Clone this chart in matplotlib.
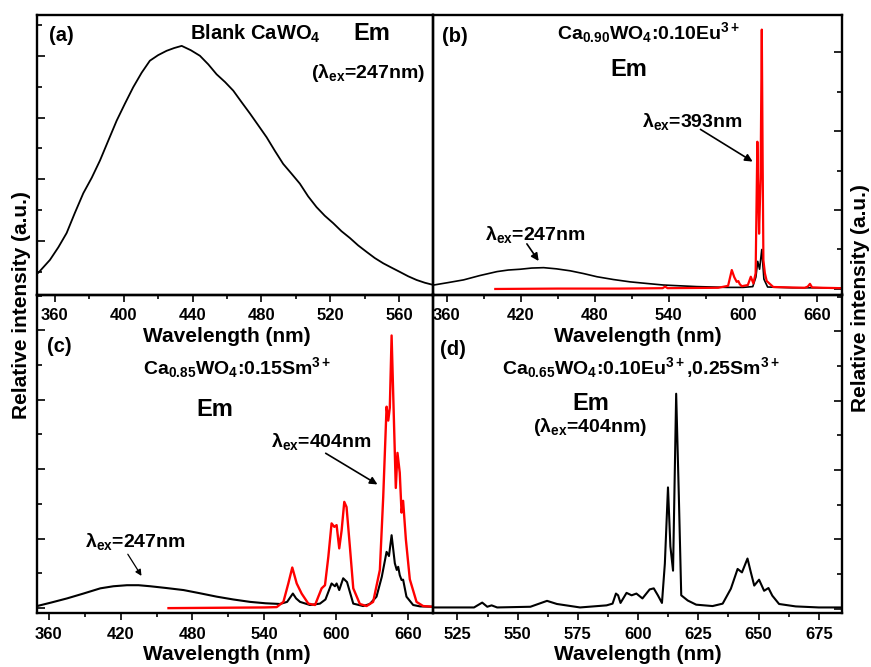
import matplotlib
matplotlib.use('Agg')
import matplotlib.pyplot as plt
import matplotlib.ticker as mtick

plt.rcParams['font.family'] = ['Liberation Sans', 'DejaVu Sans']
plt.rcParams['font.weight'] = 'bold'
plt.rcParams['mathtext.fontset'] = 'custom'
plt.rcParams['mathtext.rm'] = 'Liberation Sans:bold'
plt.rcParams['mathtext.it'] = 'Liberation Sans:bold'
plt.rcParams['mathtext.bf'] = 'Liberation Sans:bold'

# (a) blank CaWO4, excited at 247 nm
a_wl = [349.4, 350.3, 357.1, 362.0, 366.8, 371.5, 376.5, 381.4, 386.2, 391.0, 395.9,
        400.7, 405.5, 410.4, 415.2, 420.0, 424.9, 429.3, 433.7, 439.0, 444.3, 449.2,
        454.0, 458.9, 463.7, 468.5, 473.4, 478.2, 483.1, 487.9, 492.7, 497.6, 502.4,
        507.2, 512.1, 516.9, 521.8, 526.6, 531.5, 536.3, 541.2, 546.0, 550.9, 555.7,
        560.6, 565.4, 570.3, 575.1, 580.0]
a_int = [0.95, 0.97, 1.39, 1.80, 2.26, 2.90, 3.55, 4.05, 4.61, 5.25, 5.90,
         6.45, 6.98, 7.45, 7.84, 8.02, 8.16, 8.25, 8.32, 8.18, 8.00, 7.72,
         7.40, 7.15, 6.87, 6.50, 6.13, 5.75, 5.36, 4.92, 4.50, 4.18, 3.86,
         3.45, 3.10, 2.82, 2.58, 2.32, 2.10, 1.86, 1.65, 1.45, 1.28, 1.14,
         1.00, 0.86, 0.74, 0.65, 0.58]

# (b) Ca0.90WO4:0.10Eu3+
b_wl_247 = [349.6, 361.0, 373.8, 387.0, 400.9, 410.0, 419.7, 429.0, 438.6, 449.0,
            460.2, 471.0, 481.8, 495.0, 508.7, 522.0, 535.6, 549.0, 562.7, 575.0,
            586.9, 600.0, 608.0, 610.5, 612.0, 613.5, 615.3, 617.0, 620.0, 640.0,
            660.0, 680.0]
b_int_247 = [0.10, 0.16, 0.23, 0.34, 0.44, 0.48, 0.50, 0.53, 0.54, 0.51,
             0.46, 0.39, 0.31, 0.24, 0.18, 0.14, 0.10, 0.08, 0.06, 0.05,
             0.04, 0.04, 0.06, 0.30, 0.70, 0.50, 1.00, 0.25, 0.05, 0.03,
             0.03, 0.02]
b_wl_393 = [399.5, 450.0, 500.0, 535.0, 537.0, 539.0, 580.0, 588.0, 591.0, 593.0,
            595.0, 596.3, 597.5, 599.1, 604.0, 606.4, 608.5, 610.3, 611.7, 612.4,
            613.1, 614.3, 615.3, 616.0, 616.6, 617.8, 619.3, 624.6, 650.0, 652.5,
            654.3, 656.0, 665.0, 680.0]
b_int_393 = [0.00, 0.01, 0.01, 0.02, 0.06, 0.02, 0.03, 0.08, 0.48, 0.30,
             0.18, 0.20, 0.12, 0.07, 0.10, 0.31, 0.14, 0.40, 3.73, 2.50,
             1.40, 2.80, 6.57, 3.20, 0.73, 0.40, 0.20, 0.05, 0.03, 0.06,
             0.13, 0.04, 0.03, 0.02]

# (c) Ca0.85WO4:0.15Sm3+
c_wl_247 = [350.3, 362.0, 375.3, 389.0, 403.1, 414.0, 425.3, 435.0, 444.8, 458.0,
            472.6, 486.0, 500.3, 514.0, 528.1, 541.0, 553.1, 559.0, 563.8, 566.5,
            569.8, 578.1, 586.4, 591.0, 596.1, 598.9, 600.3, 602.5, 605.8, 609.0,
            611.5, 614.2, 622.5, 628.0, 633.6, 638.0, 642.0, 644.0, 646.2, 648.9,
            650.5, 651.7, 653.0, 654.5, 655.8, 658.6, 664.2, 670.0, 680.8]
c_int_247 = [0.06, 0.16, 0.28, 0.42, 0.57, 0.63, 0.66, 0.66, 0.63, 0.58,
             0.52, 0.43, 0.33, 0.25, 0.18, 0.14, 0.12, 0.18, 0.42, 0.28,
             0.18, 0.09, 0.13, 0.25, 0.71, 0.63, 0.71, 0.52, 0.86, 0.75,
             0.45, 0.13, 0.06, 0.12, 0.33, 0.90, 1.62, 1.50, 2.10, 1.29,
             1.10, 1.19, 0.95, 0.81, 0.82, 0.33, 0.09, 0.05, 0.04]
c_wl_404 = [460.0, 500.0, 540.0, 550.3, 555.9, 560.0, 563.3, 567.0, 571.1, 576.7,
            582.3, 587.8, 590.6, 593.4, 596.1, 598.4, 600.3, 602.5, 604.5, 606.7,
            608.6, 611.4, 614.2, 619.7, 625.3, 630.8, 636.4, 639.2, 642.0, 643.4,
            644.7, 646.2, 648.3, 649.7, 651.1, 653.0, 654.5, 655.8, 658.1, 661.4,
            667.0, 672.5, 680.8]
c_int_404 = [0.00, 0.01, 0.02, 0.03, 0.18, 0.71, 1.17, 0.71, 0.42, 0.13,
             0.09, 0.57, 0.66, 1.48, 2.44, 2.34, 2.39, 1.72, 2.24, 3.06,
             2.91, 1.76, 0.57, 0.12, 0.06, 0.18, 1.10, 3.20, 5.80, 5.40,
             5.77, 7.85, 5.20, 3.46, 4.47, 3.90, 2.75, 3.09, 1.98, 0.83,
             0.18, 0.06, 0.04]

# (d) Ca0.65WO4:0.10Eu3+,0.25Sm3+, excited at 404 nm
d_wl = [514.7, 525.0, 531.9, 535.3, 537.4, 539.2, 541.5, 555.3, 562.2, 566.3,
        575.9, 586.9, 589.4, 590.8, 591.7, 592.7, 595.2, 597.3, 599.3, 601.8,
        604.8, 606.5, 608.2, 609.9, 611.1, 612.4, 613.4, 614.5, 615.8, 616.9,
        617.9, 620.6, 624.1, 630.9, 635.1, 638.5, 641.3, 643.1, 645.4, 646.8,
        648.2, 650.2, 652.3, 654.1, 655.7, 658.5, 665.4, 675.0, 685.0]
d_int = [0.04, 0.04, 0.04, 0.18, 0.06, 0.10, 0.04, 0.06, 0.23, 0.14,
         0.04, 0.10, 0.15, 0.44, 0.39, 0.17, 0.46, 0.39, 0.44, 0.30,
         0.56, 0.59, 0.39, 0.17, 1.30, 3.50, 1.80, 1.10, 6.20, 3.27,
         0.39, 0.24, 0.12, 0.08, 0.15, 0.58, 1.15, 1.05, 1.45, 1.05,
         0.67, 0.84, 0.52, 0.60, 0.38, 0.14, 0.07, 0.04, 0.04]

W, H = 871, 667
fig = plt.figure(figsize=(W / 100, H / 100), dpi=100)

x0, xm, x1 = 36.7, 433.3, 841.7
y0, ym, y1 = 15, 294.5, 613


def box(l, t, r, b):
    return [l / W, 1 - b / H, (r - l) / W, (b - t) / H]


axa = fig.add_axes(box(x0, y0, xm, ym), facecolor='none')
axb = fig.add_axes(box(xm, y0, x1, ym), facecolor='none')
axc = fig.add_axes(box(x0, ym, xm, y1), facecolor='none')
axd = fig.add_axes(box(xm, ym, x1, y1), facecolor='none')

axa.plot(a_wl, a_int, color='black', lw=1.3)
axb.plot(b_wl_247, b_int_247, color='black', lw=1.2)
axb.plot(b_wl_393, b_int_393, color='red', lw=1.6)
axc.plot(c_wl_247, c_int_247, color='black', lw=1.5)
axc.plot(c_wl_404, c_int_404, color='red', lw=1.7)
axd.plot(d_wl, d_int, color='black', lw=1.5)

axa.set_xlim(349.4, 580)
axa.set_ylim(0.27, 9.32)
axb.set_xlim(349.3, 680)
axb.set_ylim(-0.14, 6.94)
axc.set_xlim(350, 681)
axc.set_ylim(-0.14, 9.03)
axd.set_xlim(515, 684.5)
axd.set_ylim(-0.12, 9.06)

xsteps = {axa: (40, 20), axb: (60, 30), axc: (60, 30), axd: (25, 12.5)}
for ax, (maj, mnr) in xsteps.items():
    for s in ax.spines.values():
        s.set_linewidth(1.7)
    ax.xaxis.set_major_locator(mtick.MultipleLocator(maj))
    ax.xaxis.set_minor_locator(mtick.MultipleLocator(mnr))
    ax.yaxis.set_major_locator(mtick.MultipleLocator(2))
    ax.yaxis.set_minor_locator(mtick.MultipleLocator(1))
    ax.tick_params(axis='x', which='major', direction='out', length=5, width=1.2,
                   labelsize=12, pad=5)
    ax.tick_params(axis='x', which='minor', direction='out', length=3, width=1.2)
    ax.tick_params(axis='y', which='major', direction='in', length=6, width=1.2)
    ax.tick_params(axis='y', which='minor', direction='in', length=3.6, width=1.2)
    ax.set_xlabel('Wavelength (nm)', fontsize=15, fontweight='bold')
    for lab in ax.get_xticklabels():
        lab.set_fontweight('bold')

for ax in (axa, axc):
    ax.tick_params(axis='y', which='both', left=True, right=False, labelleft=False)
for ax in (axb, axd):
    ax.tick_params(axis='y', which='both', left=False, right=True,
                   labelleft=False, labelright=False)
axa.xaxis.set_label_coords(0.48, -0.115)
axb.xaxis.set_label_coords(0.5, -0.115)
axc.xaxis.set_label_coords(0.48, -0.10)
axd.xaxis.set_label_coords(0.5, -0.10)


def ftext(x, y, s, size=14, **kw):
    fig.text(x / W, 1 - y / H, s, fontsize=size, fontweight='bold',
             ha='center', va='center', **kw)


# panel (a)
ftext(61.5, 35.5, '(a)', size=14.5)
ftext(255, 34, 'Blank CaWO$_4$', size=14.5)
ftext(372, 33, 'Em', size=17)
ftext(368, 73, '(λ$_{ex}$=247nm)')
# panel (b)
ftext(454.5, 36, '(b)', size=14.5)
ftext(649, 33, 'Ca$_{0.90}$WO$_4$:0.10Eu$^{3+}$')
ftext(629, 69, 'Em', size=17)
ftext(692, 122, 'λ$_{ex}$=393nm')
ftext(535, 235, 'λ$_{ex}$=247nm')
# panel (c)
ftext(59.5, 347, '(c)', size=14.5)
ftext(237, 368, 'Ca$_{0.85}$WO$_4$:0.15Sm$^{3+}$')
ftext(215, 410, 'Em', size=17)
ftext(321, 442, 'λ$_{ex}$=404nm')
ftext(135.5, 542, 'λ$_{ex}$=247nm')
# panel (d)
ftext(453, 350, '(d)', size=14.5)
ftext(641, 368, 'Ca$_{0.65}$WO$_4$:0.10Eu$^{3+}$,0.25Sm$^{3+}$')
ftext(591, 403, 'Em', size=17)
ftext(589.5, 427, '(λ$_{ex}$=404nm)')

arrow = dict(arrowstyle='-|>', color='black', lw=1.2, mutation_scale=11)
axb.annotate('', xy=(609.8, 3.19), xytext=(563.7, 4.08), arrowprops=arrow)
axb.annotate('', xy=(435.9, 0.65), xytext=(423.8, 1.20), arrowprops=arrow)
axc.annotate('', xy=(636.4, 3.52), xytext=(589.2, 4.50), arrowprops=arrow)
axc.annotate('', xy=(438.7, 0.86), xytext=(424.8, 1.62),
             arrowprops=dict(arrowstyle='-|>', color='black', lw=0.9, mutation_scale=9))

ftext(22, 305, 'Relative intensity (a.u.)', size=15, rotation=90)
ftext(860, 298, 'Relative intensity (a.u.)', size=15, rotation=90)

fig.savefig('out.png', dpi=100)
